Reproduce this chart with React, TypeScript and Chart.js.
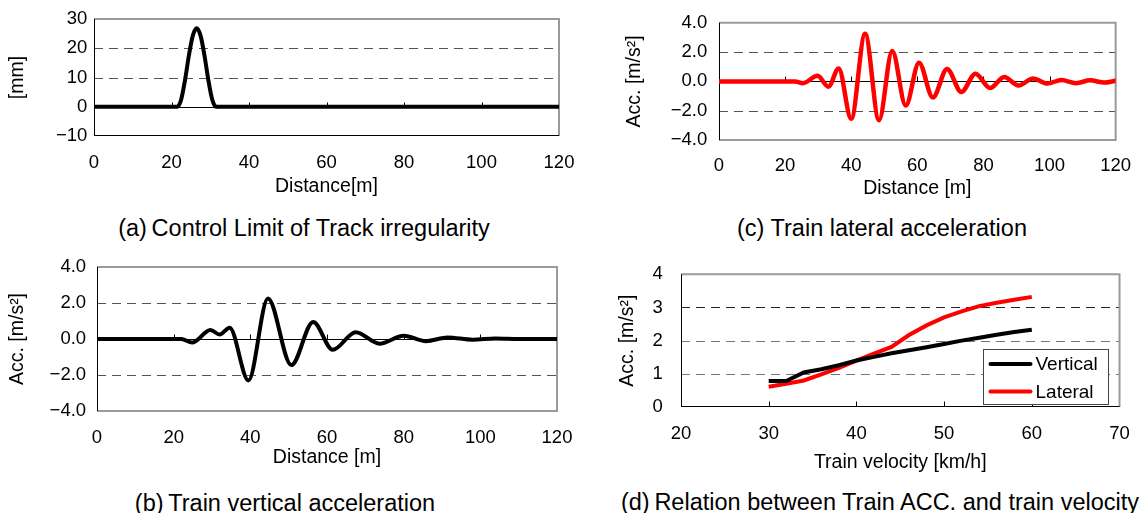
import React, { useEffect, useRef } from "react";
import { Chart, registerables } from "chart.js";

Chart.register(...registerables);

// ---------- data ----------
// (a) track irregularity [mm] vs distance [m]
const trackX = [0, 21.5, 22.5, 23.5, 24.5, 25.5, 26.5, 27.5, 28.5, 29.5, 30.5, 31.5, 120];
const trackY = [0, 0, 2.5, 9.2, 17.6, 24.3, 26.8, 24.3, 17.6, 9.2, 2.5, 0, 0];

// (b) vertical acceleration [m/s2] vs distance [m] (extrema)
const vertX = [0, 22, 24.8, 29.6, 32, 34.6, 39.5, 44.6, 50.7, 56.4, 61.5, 67.5, 73.7, 80, 85.8, 91.5, 98, 104, 110, 120];
const vertY = [0, 0, -0.2, 0.5, 0.25, 0.62, -2.3, 2.25, -1.45, 0.95, -0.6, 0.38, -0.26, 0.18, -0.12, 0.09, -0.04, 0.03, 0, 0];

// (c) lateral acceleration [m/s2] vs distance [m] (extrema)
const latX = [0, 23, 25.4, 29.8, 33.1, 36.2, 40, 44.2, 48.4, 52.4, 56.5, 60.5, 64.7, 69, 73.3, 77.6, 82, 86.3, 90.6, 95, 99.3, 103.6, 108, 112.3, 116.6, 120];
const latY = [0, 0, -0.12, 0.38, -0.36, 0.88, -2.55, 3.25, -2.65, 2.08, -1.65, 1.28, -1.1, 0.85, -0.72, 0.52, -0.45, 0.3, -0.28, 0.2, -0.15, 0.1, -0.12, 0.07, -0.08, 0.05];

// (d) acceleration vs train velocity
const velocity = [30, 32, 34, 36, 38, 40, 42, 44, 46, 48, 50, 52, 54, 56, 58, 60];
const vertAcc = [0.78, 0.78, 1.04, 1.14, 1.26, 1.4, 1.51, 1.62, 1.71, 1.8, 1.9, 2.0, 2.09, 2.18, 2.26, 2.33];
const latAcc = [0.61, 0.7, 0.8, 0.98, 1.18, 1.4, 1.61, 1.81, 2.17, 2.46, 2.7, 2.88, 3.04, 3.14, 3.23, 3.32];

const captions = [
  "(a)\u2009Control Limit of Track irregularity",
  "(b)\u2009Train vertical acceleration",
  "(c) Train lateral acceleration",
  "(d)\u2009Relation between Train ACC. and train velocity",
];

// ---------- helpers ----------
const FONT = "'Liberation Sans', 'Noto Sans CJK JP', sans-serif";
const TICK_SIZE = 18.5;
const TITLE_SIZE = 19.5;
const pts = (xs: number[], ys: number[]) => xs.map((x, i) => ({ x, y: ys[i] }));

const framePlugin = {
  id: "frame",
  beforeDatasetsDraw(chart: any, _args: any, opts: any) {
    const { ctx, chartArea: a, scales } = chart;
    const xs = scales.x, ys = scales.y;
    ctx.save();
    ctx.lineWidth = 1;
    ctx.setLineDash([9, 6]);
    (opts.dashed || []).forEach((d: any) => {
      const py = Math.round(ys.getPixelForValue(d.v)) + 0.5;
      ctx.strokeStyle = d.c;
      ctx.beginPath();
      ctx.moveTo(a.left, py);
      ctx.lineTo(a.right, py);
      ctx.stroke();
    });
    ctx.setLineDash([]);
    const tickVals = xs.ticks.map((t: any) => t.value).filter((v: number) => v > xs.min && v < xs.max);
    if (opts.zero) {
      const py = Math.round(ys.getPixelForValue(0)) + 0.5;
      ctx.strokeStyle = "#000";
      ctx.beginPath();
      ctx.moveTo(a.left, py);
      ctx.lineTo(a.right, py);
      tickVals.forEach((v: number) => {
        const px = Math.round(xs.getPixelForValue(v)) + 0.5;
        ctx.moveTo(px, py);
        ctx.lineTo(px, py - 5);
      });
      ctx.stroke();
    }
    ctx.strokeStyle = "#9a9a9a";
    ctx.lineWidth = 2;
    ctx.beginPath();
    ctx.moveTo(a.left, a.top);
    ctx.lineTo(a.right, a.top);
    ctx.lineTo(a.right, a.bottom);
    if (!opts.bottomBlack) ctx.lineTo(a.left, a.bottom);
    ctx.stroke();
    ctx.lineWidth = 1;
    ctx.strokeStyle = "#000";
    ctx.beginPath();
    const lx = Math.round(a.left) + 0.5;
    ctx.moveTo(lx, a.top);
    ctx.lineTo(lx, a.bottom);
    if (opts.bottomBlack) {
      const by = Math.round(a.bottom) - 0.5;
      ctx.moveTo(a.left, by);
      ctx.lineTo(a.right, by);
      if (opts.bottomTicks) {
        tickVals.forEach((v: number) => {
          const px = Math.round(xs.getPixelForValue(v)) + 0.5;
          ctx.moveTo(px, by);
          ctx.lineTo(px, by - 5);
        });
      }
    }
    ctx.stroke();
    ctx.restore();
  },
  afterDatasetsDraw(chart: any, _args: any, opts: any) {
    if (!opts.legend) return;
    const { ctx, chartArea: a } = chart;
    const bx = Math.round(a.right - 137) + 0.5;
    const by = Math.round(a.top + 74.6) + 0.5;
    const bw = 125, bh = 55;
    ctx.save();
    ctx.fillStyle = "#fff";
    ctx.fillRect(bx, by, bw, bh);
    ctx.strokeStyle = "#444";
    ctx.lineWidth = 1;
    ctx.strokeRect(bx, by, bw, bh);
    ctx.font = `19px ${FONT}`;
    ctx.textBaseline = "middle";
    ctx.textAlign = "left";
    chart.data.datasets.forEach((ds: any, i: number) => {
      const cy = by + 14.4 + i * 27.6;
      ctx.strokeStyle = ds.borderColor;
      ctx.lineWidth = 4;
      ctx.lineCap = "round";
      ctx.beginPath();
      ctx.moveTo(bx + 7, cy);
      ctx.lineTo(bx + 47, cy);
      ctx.stroke();
      ctx.fillStyle = "#000";
      ctx.fillText(ds.label, bx + 52, cy + 1);
    });
    ctx.restore();
  },
};

type Cfg = {
  datasets: any[];
  x: [number, number, number];
  y: [number, number, number];
  dec: number;
  xTitle: string;
  yTitle: string;
  pad: { top: number; right: number };
  yWidth: number;
  xHeight: number;
  xLabelPad: number;
  yLabelPad: number;
  xTitlePad: number;
  yTitlePad: number;
  frame: any;
};

function makeConfig(c: Cfg): any {
  const fmt = (v: number) => Number(v).toFixed(c.dec).replace("-", "\u2212");
  return {
    type: "line",
    data: { datasets: c.datasets },
    plugins: [framePlugin],
    options: {
      animation: false,
      responsive: false,
      devicePixelRatio: 1,
      layout: { padding: { left: 0, top: c.pad.top, right: c.pad.right, bottom: 0 } },
      plugins: { legend: { display: false }, tooltip: { enabled: false }, frame: c.frame },
      elements: { point: { radius: 0 } },
      scales: {
        x: {
          type: "linear",
          min: c.x[0],
          max: c.x[1],
          ticks: {
            stepSize: c.x[2],
            padding: c.xLabelPad,
            color: "#000",
            font: { family: FONT, size: TICK_SIZE },
            maxRotation: 0,
            autoSkip: false,
          },
          grid: { display: false, drawTicks: false },
          border: { display: false },
          title: {
            display: true,
            text: c.xTitle,
            color: "#000",
            font: { family: FONT, size: TITLE_SIZE },
            padding: { top: 0, bottom: c.xTitlePad },
          },
          afterFit: (s: any) => {
            s.height = c.xHeight;
          },
        },
        y: {
          type: "linear",
          min: c.y[0],
          max: c.y[1],
          ticks: {
            stepSize: c.y[2],
            padding: c.yLabelPad,
            color: "#000",
            font: { family: FONT, size: TICK_SIZE },
            callback: (v: any) => fmt(v),
          },
          grid: { display: false, drawTicks: false },
          border: { display: false },
          title: {
            display: true,
            text: c.yTitle,
            color: "#000",
            font: { family: FONT, size: TITLE_SIZE },
            padding: { top: c.yTitlePad, bottom: 0 },
          },
          afterFit: (s: any) => {
            s.width = c.yWidth;
          },
        },
      },
    },
  };
}

const smoothLine = (label: string, data: any[], color: string, w: number) => ({
  label,
  data,
  borderColor: color,
  backgroundColor: color,
  borderWidth: w,
  cubicInterpolationMode: "monotone",
  fill: false,
  borderJoinStyle: "round",
  borderCapStyle: "round",
});

const dashA = [10, 20].map((v) => ({ v, c: "#555" }));
const dashBC = [2, -2].map((v) => ({ v, c: "#555" }));
const dashD = [
  { v: 1, c: "#777" },
  { v: 2, c: "#777" },
  { v: 3, c: "#222" },
];

const configs = [
  {
    box: { l: 0, t: 0, w: 600, h: 200 },
    cfg: makeConfig({
      datasets: [smoothLine("Track", pts(trackX, trackY), "#000", 4)],
      x: [0, 120, 20],
      y: [-10, 30, 10],
      dec: 0,
      xTitle: "Distance[m]",
      yTitle: "[mm]",
      pad: { top: 19, right: 41 },
      yWidth: 94,
      xHeight: 64,
      xLabelPad: 16.2,
      yLabelPad: 6.6,
      xTitlePad: 1.3,
      yTitlePad: 5.8,
      frame: { dashed: dashA, zero: true, bottomBlack: true },
    }),
  },
  {
    box: { l: 573, t: 0, w: 573, h: 205 },
    cfg: makeConfig({
      datasets: [smoothLine("Lateral", pts(latX, latY), "#ff0000", 4.5)],
      x: [0, 120, 20],
      y: [-4, 4, 2],
      dec: 1,
      xTitle: "Distance [m]",
      yTitle: "Acc. [m/s\u00b2]",
      pad: { top: 18, right: 21 },
      yWidth: 146,
      xHeight: 65,
      xLabelPad: 14.9,
      yLabelPad: 11.7,
      xTitlePad: 4.3,
      yTitlePad: 49.7,
      frame: { dashed: dashBC, zero: true },
    }),
  },
  {
    box: { l: 0, t: 245, w: 600, h: 235 },
    cfg: makeConfig({
      datasets: [smoothLine("Vertical", pts(vertX, vertY), "#000", 4)],
      x: [0, 120, 20],
      y: [-4, 4, 2],
      dec: 1,
      xTitle: "Distance [m]",
      yTitle: "Acc. [m/s\u00b2]",
      pad: { top: 18, right: 43 },
      yWidth: 97,
      xHeight: 69,
      xLabelPad: 15.9,
      yLabelPad: 10.9,
      xTitlePad: 10.3,
      yTitlePad: 5.8,
      frame: { dashed: dashBC, zero: true },
    }),
  },
  {
    box: { l: 573, t: 245, w: 573, h: 235 },
    cfg: makeConfig({
      datasets: [
        { label: "Vertical", data: pts(velocity, vertAcc), borderColor: "#000", borderWidth: 4, tension: 0, fill: false },
        { label: "Lateral", data: pts(velocity, latAcc), borderColor: "#ff0000", borderWidth: 4, tension: 0, fill: false },
      ],
      x: [20, 70, 10],
      y: [0, 4, 1],
      dec: 0,
      xTitle: "Train velocity [km/h]",
      yTitle: "Acc. [m/s\u00b2]",
      pad: { top: 18, right: 22 },
      yWidth: 108,
      xHeight: 73,
      xLabelPad: 16.2,
      yLabelPad: 18.2,
      xTitlePad: 5.3,
      yTitlePad: 43.1,
      frame: { dashed: dashD, zero: false, bottomBlack: true, bottomTicks: true, legend: true },
    }),
  },
];

const captionPos = [
  { x: 304, y: 228 },
  { x: 285, y: 503 },
  { x: 882, y: 228 },
  { x: 880, y: 502 },
];

function ChartBox({ box, cfg }: { box: any; cfg: any }) {
  const ref = useRef<HTMLCanvasElement | null>(null);
  useEffect(() => {
    if (!ref.current) return;
    const chart = new Chart(ref.current, cfg);
    return () => chart.destroy();
  }, [cfg]);
  return (
    <div style={{ position: "absolute", left: box.l, top: box.t, width: box.w, height: box.h }}>
      <canvas ref={ref} width={box.w} height={box.h} style={{ width: box.w, height: box.h, display: "block" }} />
    </div>
  );
}

export default function App() {
  return (
    <div style={{ position: "absolute", left: 0, top: 0, width: 1146, height: 513, background: "#fff", overflow: "hidden" }}>
      {captions.map((t, i) => (
        <div
          key={i}
          style={{
            position: "absolute",
            left: captionPos[i].x,
            top: captionPos[i].y,
            transform: "translate(-50%, -50%)",
            whiteSpace: "nowrap",
            fontFamily: FONT,
            fontSize: 23.5,
            lineHeight: "26px",
            color: "#000",
          }}
        >
          {t}
        </div>
      ))}
      {configs.map((c, i) => (
        <ChartBox key={i} box={c.box} cfg={c.cfg} />
      ))}
    </div>
  );
}
